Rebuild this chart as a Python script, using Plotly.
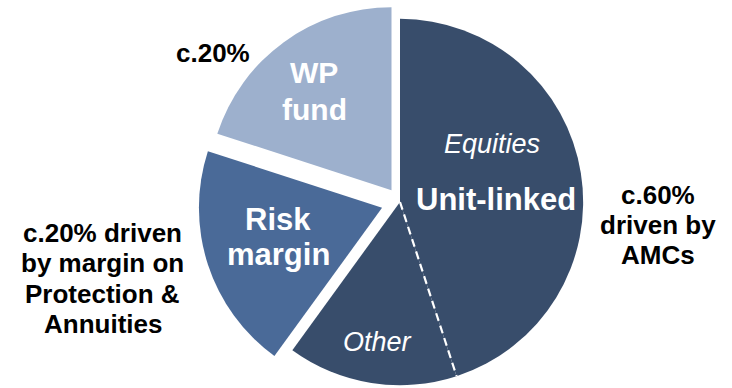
import math
import plotly.graph_objects as go

# Profit mix by source (% of total)
segments = ["Equities", "Other", "Risk margin", "WP fund"]
shares = [45, 15, 20, 20]
colors = ["#384D6B", "#384D6B", "#4A6A98", "#9DB0CD"]
pulls = [0, 0, 0.103, 0.079]

# Text blocks
top_note = ["c.20%"]
left_note = ["c.20% driven", "by margin on", "Protection &", "Annuities"]
right_note = ["c.60%", "driven by", "AMCs"]
wp_label = ["WP", "fund"]
risk_label = ["Risk", "margin"]
ul_label = ["Unit-linked"]
eq_label = ["Equities"]
other_label = ["Other"]

W, H = 732, 404
CX, CY = 400, 202          # pie centre in pixels
HALF = 202                 # half-size of the square pie box
FONT = "Liberation Sans, Arial, Helvetica, sans-serif"

R = 2 * HALF / (2 + 2 * max(pulls))


def px(x, y):
    """pixel position -> paper coordinates"""
    return x / W, 1 - y / H


fig = go.Figure()
fig.add_trace(go.Pie(
    labels=segments,
    values=shares,
    sort=False,
    direction="clockwise",
    rotation=0,
    pull=pulls,
    marker=dict(colors=colors, line=dict(width=0)),
    textinfo="none",
    hoverinfo="label+percent",
    showlegend=False,
    domain=dict(x=[(CX - HALF) / W, (CX + HALF) / W], y=[0, 1]),
))

# dashed divider between Equities and Other inside the unit-linked slice
ang = math.radians(360 * shares[0] / sum(shares))
x0, y0 = px(CX, CY)
x1, y1 = px(CX + R * math.sin(ang), CY - R * math.cos(ang))
fig.add_shape(type="line", xref="paper", yref="paper",
              x0=x0, y0=y0, x1=x1, y1=y1,
              line=dict(color="white", width=2.2, dash="8px,5px"))


def label(lines, x, y, size, spacing, color, bold=True, italic=False):
    n = len(lines)
    for i, t in enumerate(lines):
        yy = y + (i - (n - 1) / 2) * spacing
        txt = t
        if bold:
            txt = "<b>" + txt + "</b>"
        if italic:
            txt = "<i>" + txt + "</i>"
        ax, ay = px(x, yy)
        fig.add_annotation(x=ax, y=ay, xref="paper", yref="paper",
                           text=txt, showarrow=False,
                           xanchor="center", yanchor="middle",
                           font=dict(family=FONT, size=size, color=color))


label(top_note, 213, 53, 26, 30, "black")
label(left_note, 103, 278.5, 26, 30.3, "black")
label(right_note, 658, 225, 26, 30, "black")
label(wp_label, 314, 91, 30, 36, "white")
label(risk_label, 278, 236.5, 31, 35, "white")
label(ul_label, 496, 199, 31, 0, "white")
label(eq_label, 492, 144, 27, 0, "white", bold=False, italic=True)
label(other_label, 377, 342, 27, 0, "white", bold=False, italic=True)

fig.update_layout(
    width=W, height=H,
    margin=dict(l=0, r=0, t=0, b=0),
    paper_bgcolor="white",
    plot_bgcolor="white",
)

fig.write_html(
    "out.html",
    config={"displayModeBar": False},
    post_script="document.documentElement.style.overflow='hidden';document.body.style.overflow='hidden';",
)
